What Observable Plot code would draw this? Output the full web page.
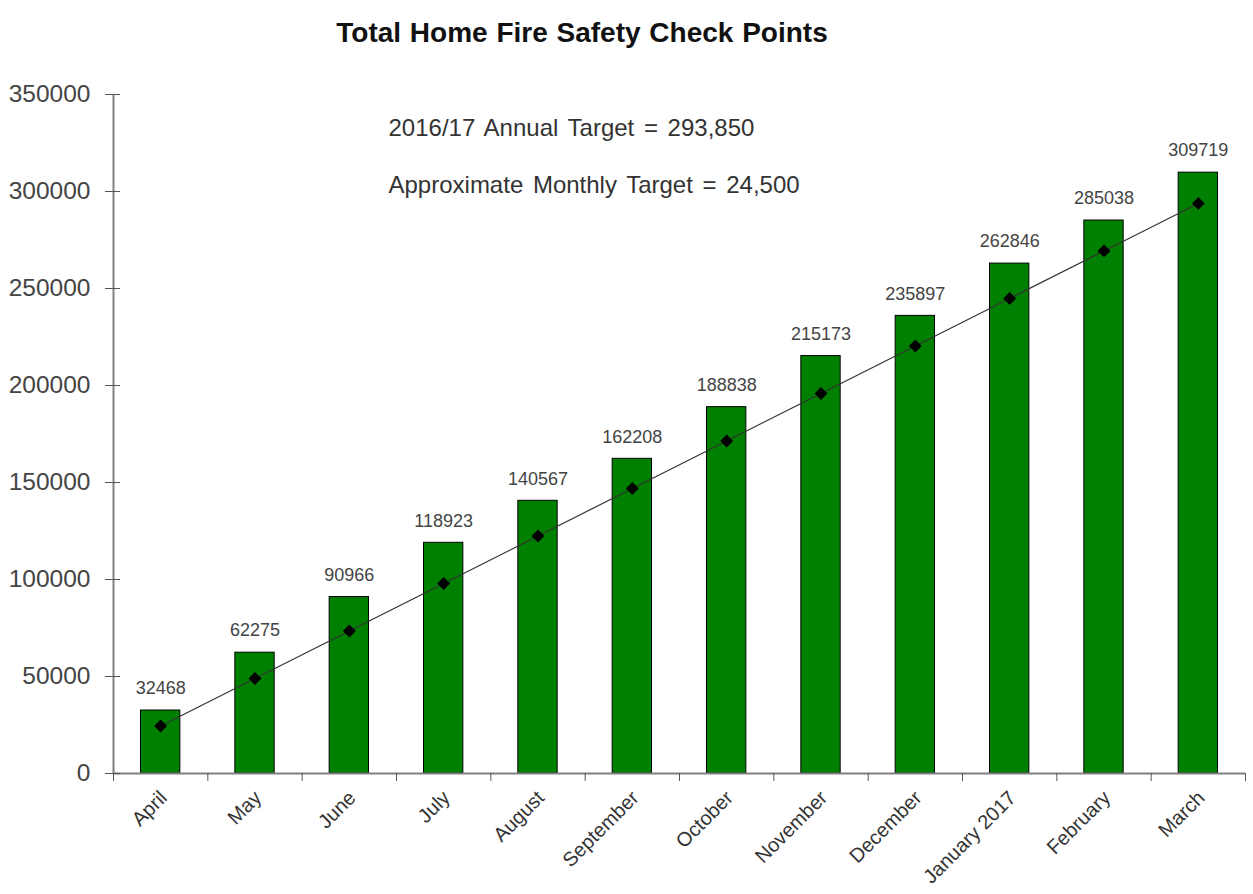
<!DOCTYPE html>
<html>
<head>
<meta charset="utf-8">
<script src="https://cdn.jsdelivr.net/npm/d3@7"></script>
<script src="https://cdn.jsdelivr.net/npm/@observablehq/plot@0.6"></script>
<style>
  html, body { margin: 0; padding: 0; background: #fff; }
  body { width: 1253px; height: 894px; overflow: hidden; font-family: "Liberation Sans", Arial, sans-serif; }
  #title { height: 60px; line-height: 66px; text-align: center; font-weight: bold; font-size: 28px; word-spacing: 1px; color: #111; width: 1164px; }
  .note text { word-spacing: 3px; }
</style>
</head>
<body>
<div id="title">Total Home Fire Safety Check Points</div>
<div id="chart"></div>
<script>
const months = ["April", "May", "June", "July", "August", "September", "October", "November", "December", "January 2017", "February", "March"];
const actual = [32468, 62275, 90966, 118923, 140567, 162208, 188838, 215173, 235897, 262846, 285038, 309719];
const target = [24488, 48975, 73463, 97950, 122438, 146925, 171413, 195900, 220388, 244875, 269363, 293850];
const yTicks = [0, 50000, 100000, 150000, 200000, 250000, 300000, 350000];
const xBoundaries = [0, 1, 2, 3, 4, 5, 6, 7, 8, 9, 10, 11, 12];
const notes = ["2016/17 Annual Target = 293,850", "Approximate Monthly Target = 24,500"];

const rows = months.map((m, i) => ({month: m, idx: i, actual: actual[i], target: target[i]}));

const chart = Plot.plot({
  width: 1253,
  height: 834,
  marginLeft: 113,
  marginRight: 8,
  marginTop: 34,
  marginBottom: 121,
  style: {fontFamily: "Liberation Sans, Arial, sans-serif", background: "#fff"},
  x: {domain: [0, 12], axis: null},
  y: {domain: [0, 350000], axis: null},
  marks: [
    Plot.rectY(rows, {x1: "idx", x2: d => d.idx + 1, y: "actual", fill: "#008000", stroke: "#000", strokeWidth: 1, insetLeft: 27.5, insetRight: 27.5}),
    Plot.ruleX([0], {y1: 0, y2: 350000, stroke: "#808080", strokeWidth: 2}),
    Plot.ruleY([0], {stroke: "#808080", strokeWidth: 2}),
    Plot.axisY({ticks: yTicks, tickSize: 8, tickPadding: 15, tickFormat: d => String(d), fontSize: 24.5, fill: "#444", stroke: "#555", label: null}),
    Plot.axisY({ticks: yTicks, tickSize: -7, tickFormat: () => "", stroke: "#555", label: null}),
    Plot.axisX({ticks: xBoundaries, tickSize: 8, tickFormat: () => "", stroke: "#555", anchor: "bottom", label: null}),
    Plot.line(rows, {x: d => d.idx + 0.5, y: "target", stroke: "#333", strokeWidth: 1.2}),
    Plot.dot(rows, {x: d => d.idx + 0.5, y: "target", symbol: "diamond2", r: 5.8, fill: "#000", stroke: "none"}),
    Plot.text(rows, {x: d => d.idx + 0.5, y: "actual", text: d => String(d.actual), dy: -22, fontSize: 18, fill: "#444"}),
    Plot.text(rows, {x: d => d.idx + 0.5, y: 0, text: "month", rotate: -45, textAnchor: "end", lineAnchor: "middle", dx: 3, dy: 21, fontSize: 20, fill: "#333"}),
    Plot.text([notes[0]], {frameAnchor: "top-left", text: d => d, dx: 275, dy: 34, fontSize: 24, fill: "#333", textAnchor: "start", lineAnchor: "middle", className: "note"}),
    Plot.text([notes[1]], {frameAnchor: "top-left", text: d => d, dx: 275, dy: 91, fontSize: 24, fill: "#333", textAnchor: "start", lineAnchor: "middle", className: "note"})
  ]
});
document.getElementById("chart").appendChild(chart);
</script>
</body>
</html>
